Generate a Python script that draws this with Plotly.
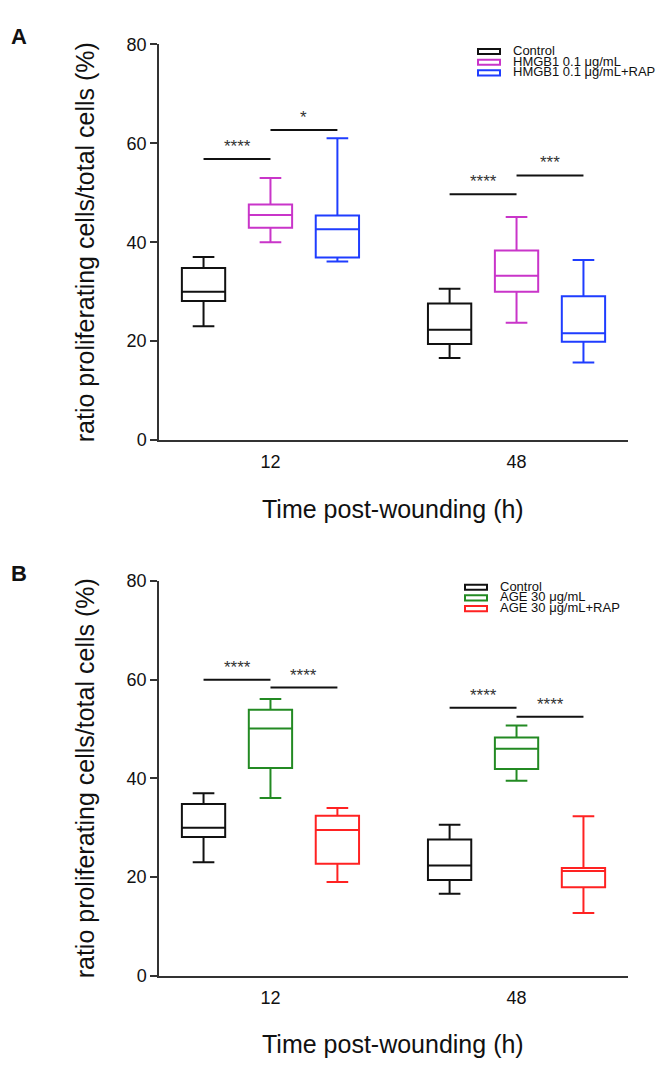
import plotly.graph_objects as go

# Time points on the x axis
times = ["12", "48"]

# Group names for each panel
groups_a = ["Control", "HMGB1 0.1 μg/mL", "HMGB1 0.1 μg/mL+RAP"]
groups_b = ["Control", "AGE 30 μg/mL", "AGE 30 μg/mL+RAP"]

# Box summaries (whisker low, Q1, median, Q3, whisker high) at [12 h, 48 h]
control_low = [23.0, 16.6]
control_q1 = [28.1, 19.4]
control_med = [30.0, 22.3]
control_q3 = [34.8, 27.6]
control_high = [37.0, 30.6]

hmgb1_low = [40.0, 23.7]
hmgb1_q1 = [42.9, 30.0]
hmgb1_med = [45.5, 33.2]
hmgb1_q3 = [47.6, 38.3]
hmgb1_high = [53.0, 45.1]

hmgb1_rap_low = [36.1, 15.7]
hmgb1_rap_q1 = [36.9, 19.9]
hmgb1_rap_med = [42.6, 21.6]
hmgb1_rap_q3 = [45.4, 29.1]
hmgb1_rap_high = [61.0, 36.4]

age_low = [36.0, 39.5]
age_q1 = [42.1, 41.9]
age_med = [50.1, 46.0]
age_q3 = [53.9, 48.3]
age_high = [56.1, 50.7]

age_rap_low = [19.0, 12.7]
age_rap_q1 = [22.7, 17.9]
age_rap_med = [29.5, 21.2]
age_rap_q3 = [32.4, 21.8]
age_rap_high = [34.0, 32.3]

# Significance brackets: time index, first group, second group, height, label
sig_a_time = [0, 0, 1, 1]
sig_a_from = [0, 1, 0, 1]
sig_a_to = [1, 2, 1, 2]
sig_a_y = [56.8, 62.7, 49.7, 53.5]
sig_a_label = ["****", "*", "****", "***"]

sig_b_time = [0, 0, 1, 1]
sig_b_from = [0, 1, 0, 1]
sig_b_to = [1, 2, 1, 2]
sig_b_y = [60.0, 58.4, 54.3, 52.5]
sig_b_label = ["****", "****", "****", "****"]

y_ticks = [0, 20, 40, 60, 80]

FONT = "Liberation Sans, Arial, sans-serif"
W, H = 670, 1068

colors_a = ["#111111", "#C935C9", "#1F3DFF"]
colors_b = ["#111111", "#238A23", "#FF2222"]

slot = 0.272      # offset between neighbouring groups
box_w = 0.176     # box width in x units

stats_a = [
    (control_low, control_q1, control_med, control_q3, control_high),
    (hmgb1_low, hmgb1_q1, hmgb1_med, hmgb1_q3, hmgb1_high),
    (hmgb1_rap_low, hmgb1_rap_q1, hmgb1_rap_med, hmgb1_rap_q3, hmgb1_rap_high),
]
stats_b = [
    (control_low, control_q1, control_med, control_q3, control_high),
    (age_low, age_q1, age_med, age_q3, age_high),
    (age_rap_low, age_rap_q1, age_rap_med, age_rap_q3, age_rap_high),
]


def pos(t, g):
    return (t + 1) + (g - 1) * slot


fig = go.Figure()


def add_panel(stats, colors, names, xa, ya):
    for g, (lo, q1, med, q3, hi) in enumerate(stats):
        fig.add_trace(go.Box(
            x=[pos(t, g) for t in range(len(times))],
            lowerfence=lo, q1=q1, median=med, q3=q3, upperfence=hi,
            width=box_w, whiskerwidth=0.5, boxpoints=False,
            line=dict(color=colors[g], width=2),
            fillcolor="rgba(0,0,0,0)",
            name=names[g], showlegend=False,
            xaxis=xa, yaxis=ya,
        ))


def add_brackets(ts, fr, to, ys, labels, xa, ya):
    for t, a, b, y, lab in zip(ts, fr, to, ys, labels):
        x0, x1 = pos(t, a), pos(t, b)
        fig.add_trace(go.Scatter(
            x=[x0, x1], y=[y, y], mode="lines",
            line=dict(color="#111111", width=2),
            showlegend=False, hoverinfo="skip",
            xaxis=xa, yaxis=ya,
        ))
        fig.add_annotation(
            x=(x0 + x1) / 2, y=y, xref=xa, yref=ya, text=lab,
            showarrow=False, yanchor="bottom", yshift=1,
            font=dict(family=FONT, size=17, color="#333333"),
        )


add_panel(stats_a, colors_a, groups_a, "x", "y")
add_panel(stats_b, colors_b, groups_b, "x2", "y2")
add_brackets(sig_a_time, sig_a_from, sig_a_to, sig_a_y, sig_a_label, "x", "y")
add_brackets(sig_b_time, sig_b_from, sig_b_to, sig_b_y, sig_b_label, "x2", "y2")


def py(px):
    return 1 - px / H


x_dom = [159 / W, 628 / W]
xax = dict(
    domain=x_dom, range=[0.547, 2.453], showline=True, linecolor="#333333",
    linewidth=1.5, tickvals=[1, 2], ticktext=times, ticks="",
    ticklabelstandoff=5,
    tickfont=dict(family=FONT, size=18, color="#111111"),
    showgrid=False, zeroline=False, fixedrange=True,
)
yax = dict(
    range=[0, 80], tickvals=y_ticks, showline=True, linecolor="#333333",
    linewidth=1.5, ticks="outside", ticklen=7, tickwidth=1.5,
    tickcolor="#333333", tickfont=dict(family=FONT, size=18, color="#111111"),
    showgrid=False, zeroline=False, fixedrange=True,
)

fig.update_layout(
    width=W, height=H,
    margin=dict(l=0, r=0, t=0, b=0),
    paper_bgcolor="white", plot_bgcolor="white",
    xaxis=dict(xax, anchor="y"),
    yaxis=dict(yax, domain=[py(438.3), py(35)], anchor="x"),
    xaxis2=dict(xax, anchor="y2"),
    yaxis2=dict(yax, domain=[py(984), py(582)], anchor="x2"),
    showlegend=False,
)

# Axis titles and panel letters
for top, bottom, letter in [(35, 438.3, "A"), (582, 984, "B")]:
    fig.add_annotation(
        x=85 / W, y=py((top + bottom) / 2), xref="paper", yref="paper",
        text="ratio proliferating cells/total cells (%)", textangle=-90,
        showarrow=False, xanchor="center", yanchor="middle",
        font=dict(family=FONT, size=25, color="#111111"),
    )
    fig.add_annotation(
        x=393 / W, y=py(bottom + 70), xref="paper", yref="paper",
        text="Time post-wounding (h)", showarrow=False,
        xanchor="center", yanchor="middle",
        font=dict(family=FONT, size=25, color="#111111"),
    )
    fig.add_annotation(
        x=9 / W, y=py(top - 8), xref="paper", yref="paper",
        text="<b>%s</b>" % letter, showarrow=False,
        xanchor="left", yanchor="middle",
        font=dict(family=FONT, size=22, color="#111111"),
    )

# Compact legends (swatch + label) in the upper right of each panel
legend_specs = [
    (groups_a, colors_a, 478, 42.3),
    (groups_b, colors_b, 465, 588.2),
]
for names, cols, sx, sy in legend_specs:
    for i, (name, col) in enumerate(zip(names, cols)):
        cy = sy + i * 10.9
        fig.add_shape(
            type="rect", xref="paper", yref="paper",
            x0=sx / W, x1=(sx + 22) / W, y0=py(cy + 2.6), y1=py(cy - 2.6),
            line=dict(color=col, width=2), fillcolor="white",
        )
        fig.add_annotation(
            x=(sx + 33) / W, y=py(cy - 1), xref="paper", yref="paper",
            text=name, showarrow=False, xanchor="left", yanchor="middle",
            font=dict(family=FONT, size=13, color="#111111"),
        )

fig.write_html("out.html")
